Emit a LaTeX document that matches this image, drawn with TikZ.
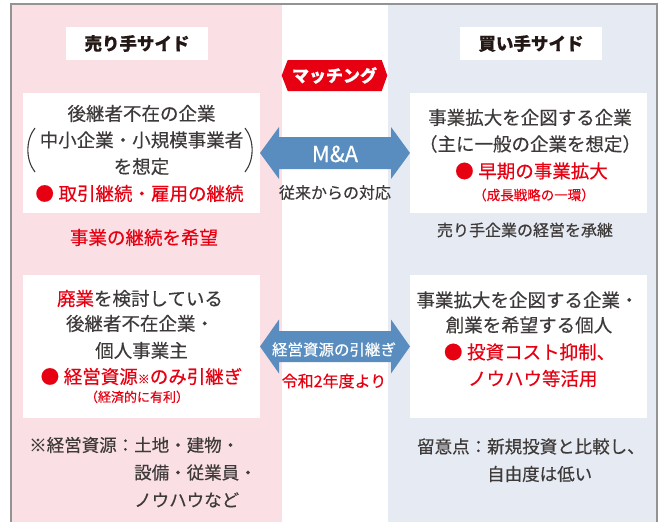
\documentclass[tikz,border=0pt]{standalone}
\usepackage{fontspec}
\setmainfont{Noto Sans CJK JP}[FakeBold=0.35]
\usetikzlibrary{calc}
\definecolor{framegray}{HTML}{939393}
\definecolor{pinkbg}{HTML}{FAE0E4}
\definecolor{bluebg}{HTML}{E6EAF3}
\definecolor{mred}{HTML}{E60012}
\definecolor{arrowblue}{HTML}{5A8DBF}
\definecolor{tgray}{HTML}{3E3A39}
\definecolor{tblack}{HTML}{231815}
\newcommand\fsz[1]{\fontsize{#1}{#1}\selectfont}
\newcommand\mydblarrow[4]{%
  \fill[arrowblue] (#1.east) -- ($(#1.east)+(19,-#3)$) -- ($(#1.east)+(19,-#4)$)
    -- ($(#2.west)+(-19,-#4)$) -- ($(#2.west)+(-19,-#3)$) -- (#2.west)
    -- ($(#2.west)+(-19,#3)$) -- ($(#2.west)+(-19,#4)$)
    -- ($(#1.east)+(19,#4)$) -- ($(#1.east)+(19,#3)$) -- cycle;}
\begin{document}
\begin{tikzpicture}[x=1pt,y=-1pt,
  whitebox/.style={fill=white, inner sep=0pt, outer sep=0pt, anchor=north west},
  tx/.style={inner sep=0pt, outer sep=0pt, anchor=base, text=tgray, font=\fsz{18.5}},
  rtx/.style={tx, text=mred},
  smtx/.style={inner sep=0pt, anchor=base, text=mred, font=\fsz{13.5}},
  note/.style={inner sep=0pt, anchor=base west, text=tgray, font=\fontsize{17.5}{27.5}\selectfont},
  titlebox/.style={fill=white, inner sep=0pt, text=tblack, font=\fsz{17.5}\bfseries},
  paren/.style={draw=tgray, line width=1.1pt},
]
\useasboundingbox (0,0) rectangle (665,522);
\fill[white] (0,0) rectangle (665,522);
% panels
\fill[pinkbg] (12,5) rectangle (282,522);
\fill[bluebg] (388,5) rectangle (656,522);
\draw[framegray, line width=2pt] (11,522) -- (11,4) -- (657,4) -- (657,522);

% titles
\node[titlebox, minimum width=142pt, minimum height=33pt] (st) at (137,43.5) {売り手サイド};
\node[titlebox, minimum width=142pt, minimum height=33pt] (bt) at (531,43.5) {買い手サイド};

% matching
\fill[mred] (281.7,75.5) -- (287.7,60) -- (381.7,60) -- (387.3,75.5) -- (381.7,91) -- (287.7,91) -- cycle;
\node[inner sep=0pt, anchor=base, text=white, font=\fsz{17}\bfseries] (mt) at (334.5,82) {マッチング};

% white boxes
\node[whitebox, minimum width=237pt, minimum height=120pt] (L1) at (23,93) {};
\node[whitebox, minimum width=237pt, minimum height=120pt] (R1) at (410,93) {};
\node[whitebox, minimum width=237pt, minimum height=143pt] (L2) at (23,275) {};
\node[whitebox, minimum width=237pt, minimum height=143pt] (R2) at (410,275) {};

% arrows
\mydblarrow{L1}{R1}{26}{16}
\mydblarrow{L2}{R2}{27}{15.5}
\node[inner sep=0pt, anchor=base, text=white, font=\fsz{22}] (ma) at (335,162) {M\&A};
\node[inner sep=0pt, anchor=base, text=tgray, font=\fsz{16}] (ma2) at (335,198.6) {従来からの対応};
\node[inner sep=0pt, anchor=base, text=white, font=\fsz{15.5}] (kh) at (334,355.4) {経営資源の引継ぎ};
\node[inner sep=0pt, anchor=base, text=mred, font=\fsz{16}] (kh2) at (334,387.1) {令和2年度より};

% left box 1
\node[tx] (l1a) at (141.5,120.5) {後継者不在の企業};
\node[tx] (l1b) at (141.5,147) {中小企業・小規模事業者};
\node[tx] (l1c) at (141.5,173.5) {を想定};
\node[rtx] (l1d) at (139.5,200.5) {●\hspace{0.25em}取引継続・雇用の継続};
\draw[paren] (35,128) .. controls (25.5,140) and (25.5,160) .. (35,172);
\draw[paren] (245,128) .. controls (254.5,140) and (254.5,160) .. (245,172);
\node[rtx] (l1e) at (144,244.5) {事業の継続を希望};

% right box 1
\node[tx] (r1a) at (530,124.5) {事業拡大を企図する企業};
\node[tx] (r1b) at (530,151) {（主に一般の企業を想定）};
\node[rtx] (r1c) at (531.5,178) {●\hspace{0.25em}早期の事業拡大};
\node[smtx] (r1d) at (534,200.1) {（成長戦略の一環）};
\node[inner sep=0pt, anchor=base, text=tgray, font=\fsz{16}] (r1e) at (525,236.1) {売り手企業の経営を承継};

% left box 2
\node[tx] (l2a) at (140,305.5) {{\color{mred}廃業}を検討している};
\node[tx] (l2b) at (140,330.5) {後継者不在企業・};
\node[tx] (l2c) at (141.5,357.5) {個人事業主};
\node[rtx] (l2d) at (141.5,383.5) {●\hspace{0.25em}経営資源{\fsz{12}※}のみ引継ぎ};
\node[inner sep=0pt, anchor=base, text=mred, font=\fsz{13}] (l2e) at (137,401.8) {（経済的に有利）};

% right box 2
\node[tx] (r2a) at (527.5,307) {事業拡大を企図する企業・};
\node[tx] (r2b) at (529,332) {創業を希望する個人};
\node[rtx, anchor=base west] (r2c) at (444,359) {●\hspace{0.25em}投資コスト抑制、};
\node[rtx, anchor=base west] (r2d) at (468,385.5) {ノウハウ等活用};

% notes
\node[note] (nl) at (29,451.6) {\begin{tabular}[t]{@{}l@{}l@{}}※経営資源：&土地・建物・\\&設備・従業員・\\&ノウハウなど\end{tabular}};
\node[note] (nr) at (417,453.1) {\begin{tabular}[t]{@{}l@{}l@{}}留意点：&新規投資と比較し、\\&自由度は低い\end{tabular}};
\end{tikzpicture}
\end{document}
